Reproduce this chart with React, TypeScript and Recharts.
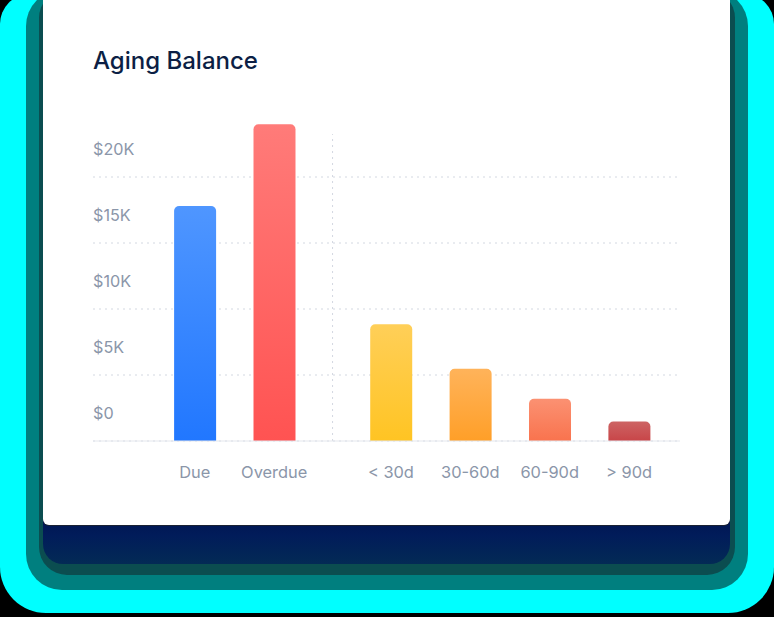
import React from 'react';
import { BarChart, Bar, XAxis, YAxis, CartesianGrid, ReferenceLine, Cell } from 'recharts';

// ---- data ----
const categories = ['Due', 'Overdue', '< 30d', '30-60d', '60-90d', '> 90d'];
const balances = [17800, 24000, 8850, 5480, 3200, 1480];
const groups = ['current', 'current', 'aging', 'aging', 'aging', 'aging'];
const yTicks = [0, 5000, 10000, 15000, 20000];

// ---- styles ----
const gradientTop = ['#4f96ff', '#ff7b79', '#ffcf58', '#ffb35a', '#fb9172', '#cd6464'];
const gradientBottom = ['#2177ff', '#ff5352', '#ffc423', '#ff9f28', '#f9734e', '#c84548'];
const GROUP_GAP = 0.47;
const FONT = 'Inter, "Noto Sans", sans-serif';
const TICK_COLOR = '#8b96a9';
const GRID_COLOR = '#d3d8e1';

const slots = categories.map((_, i) => i + (groups[i] === 'aging' ? GROUP_GAP : 0));
const data = categories.map((name, i) => ({ name, slot: slots[i], balance: balances[i] }));
const firstAging = groups.indexOf('aging');
const dividerSlot = (slots[firstAging - 1] + slots[firstAging]) / 2;

const labelFor = (v: number) => {
  const i = slots.findIndex((s) => Math.abs(s - v) < 1e-6);
  return i >= 0 ? categories[i] : '';
};
const money = (v: number) => (v === 0 ? '$0' : `$${v / 1000}K`);

const XTick = (props: any) => {
  const { x, y, payload } = props;
  return (
    <text x={x} y={y + 36.5} textAnchor="middle" fill={TICK_COLOR} fontSize={16.4} fontFamily={FONT}>
      {labelFor(payload.value)}
    </text>
  );
};

const YTick = (props: any) => {
  const { x, y, payload } = props;
  return (
    <text x={x} y={y - 22.5} textAnchor="start" fill={TICK_COLOR} fontSize={16.2} fontFamily={FONT}>
      {money(payload.value)}
    </text>
  );
};

const layer = (style: React.CSSProperties): React.CSSProperties => ({ position: 'absolute', ...style });

export default function App() {
  return (
    <div style={{ position: 'absolute', left: 0, top: 0, width: 774, height: 617, background: '#000', overflow: 'hidden' }}>
      {/* glow / shadow layers */}
      <div style={layer({ left: 0, top: -6, width: 774, height: 619, background: '#00ffff', borderRadius: '30px 30px 46px 46px' })} />
      <div style={layer({ left: 26, top: -10, width: 722, height: 600, background: '#007f7f', borderRadius: 36 })} />
      <div style={layer({ left: 39, top: -10, width: 696, height: 585, background: '#0b4d50', borderRadius: 28 })} />
      <div style={layer({ left: 43, top: -10, width: 687, height: 574, background: 'linear-gradient(#000c44 0%, #000c44 88%, #011c5a 95%, #032a55 100%)', borderRadius: 20 })} />
      {/* card */}
      <div style={layer({ left: 43, top: -20, width: 687, height: 545, background: '#ffffff', borderRadius: 6, boxShadow: '0 1px 0 #1a2233' })} />
      <div style={layer({ left: 93, top: 49, fontFamily: FONT, fontSize: 24, lineHeight: '24px', fontWeight: 500, color: '#0c1f45', whiteSpace: 'nowrap' })}>
        Aging Balance
      </div>
      <div style={layer({ left: 0, top: 0 })}>
        <BarChart width={774} height={617} data={data} margin={{ top: 111, right: 94, bottom: 146, left: 93 }}>
          <defs>
            {categories.map((_, i) => (
              <linearGradient key={i} id={`bar-grad-${i}`} x1="0" y1="0" x2="0" y2="1">
                <stop offset="0%" stopColor={gradientTop[i]} />
                <stop offset="100%" stopColor={gradientBottom[i]} />
              </linearGradient>
            ))}
          </defs>
          <CartesianGrid vertical={false} horizontalValues={yTicks} stroke={GRID_COLOR} strokeDasharray="2 4" />
          <XAxis
            type="number"
            dataKey="slot"
            domain={[0, slots[slots.length - 1]]}
            ticks={slots}
            interval={0}
            padding={{ left: 101.8, right: 50.9 }}
            height={30}
            tickSize={0}
            tickMargin={0}
            tickLine={false}
            axisLine={{ stroke: '#e4e7ed' }}
            tick={<XTick />}
          />
          <YAxis
            type="number"
            domain={[0, 25000]}
            ticks={yTicks}
            interval={0}
            mirror
            width={60}
            tickSize={0}
            tickMargin={0}
            tickLine={false}
            axisLine={false}
            tick={<YTick />}
          />
          <ReferenceLine
            segment={[{ x: dividerSlot, y: 0 }, { x: dividerSlot, y: 23250 }]}
            stroke={GRID_COLOR}
            strokeDasharray="2 4"
          />
          <Bar dataKey="balance" barSize={42} radius={[5, 5, 0, 0]} isAnimationActive={false}>
            {data.map((_, i) => (
              <Cell key={i} fill={`url(#bar-grad-${i})`} />
            ))}
          </Bar>
        </BarChart>
      </div>
    </div>
  );
}
